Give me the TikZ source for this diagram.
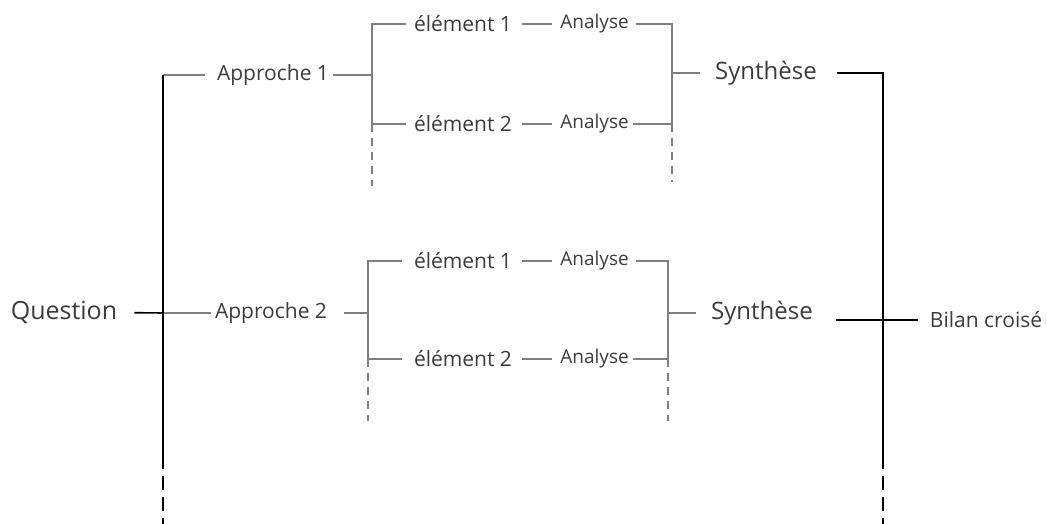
\documentclass[tikz,border=0pt]{standalone}
\usepackage{fontspec}
\setmainfont{Open Sans}
\usetikzlibrary{positioning}
\definecolor{trait}{HTML}{808080}
\definecolor{texte}{HTML}{3C3C3C}

\begin{document}
\begin{tikzpicture}[x=1pt, y=-1pt, node distance=40pt, every node/.style={text=texte, inner sep=4pt},
	gline/.style={draw=trait, line width=2.6pt},
	bline/.style={draw=black, line width=1.6pt},
	gdash/.style={gline, line width=1.6pt, dash pattern=on 8pt off 6pt},
	bdash/.style={bline, dash pattern=on 14pt off 7pt}]
			\useasboundingbox (0,0) rectangle (1047,524);
			
			\node[font=\fontsize{25}{29}\selectfont] (q) at (64,312) {Question};
			\node[font=\fontsize{21}{25}\selectfont] (app1) at (273,75) {Approche 1};
			\node[font=\fontsize{21}{25}\selectfont] (app2) at (271,313) {Approche 2};
			
			\node[font=\fontsize{21}{25}\selectfont] (e11) at (463,24) {élément 1};
			\node[font=\fontsize{21}{25}\selectfont] (e12) at (463,124) {élément 2};
			\node[font=\fontsize{21}{25}\selectfont] (e21) at (463,261) {élément 1};
			\node[font=\fontsize{21}{25}\selectfont] (e22) at (463,359) {élément 2};
			
			\node[font=\fontsize{19}{22}\selectfont, right=of e11] (a11) {Analyse};
			\node[font=\fontsize{19}{22}\selectfont, right=of e12] (a12) {Analyse};
			\node[font=\fontsize{19}{22}\selectfont, right=of e21] (a21) {Analyse};
			\node[font=\fontsize{19}{22}\selectfont, right=of e22] (a22) {Analyse};
			
			\node[font=\fontsize{24}{28}\selectfont] (s1) at (766,73) {Synthèse};
			\node[font=\fontsize{24}{28}\selectfont] (s2) at (762,313) {Synthèse};
			\node[font=\fontsize{21}{25}\selectfont] (bilan) at (986,320) {Bilan croisé};
			
			\coordinate (m) at (163,313);
			\coordinate (j1) at (372,75);
			\coordinate (j2) at (368,313);
			\coordinate (k1) at (672,73);
			\coordinate (k2) at (668,313);
			\coordinate (r) at (883,320);
			
			\draw[bline, shorten <=13pt] (q) -- (m);
			\draw[gline] (m) -- (app2);
			\draw[gline, shorten <=8pt] (app1.west) -- (m |- app1.west) coordinate (mt);
			\draw[bline] (mt) -- (163,455) coordinate (mb);
			\draw[bdash] (mb) -- ++(0,69);
			
			\draw[gline] (app1) -- (j1);
			\draw[gline, shorten <=13pt] (app2) -- (j2);
			\draw[gline, shorten <=4pt, shorten >=4pt] (e11.west) -| (j1) |- (e12.west);
			\draw[gline, shorten <=8pt, shorten >=8pt] (e21.west) -| (j2) |- (e22.west);
			\draw[gdash] (j1 |- e12.west) -- ++(0,62);
			\draw[gdash] (j2 |- e22.west) -- ++(0,62);
			
			\foreach \i in {11,12,21,22}
				\draw[gline, shorten <=6pt, shorten >=4pt] (e\i) -- (a\i);
			
			\draw[gline, shorten <=3pt] (a11.east) -| (k1) |- (a12.east);
			\draw[gline, shorten <=3pt] (a21.east) -| (k2) |- (a22.east);
			\draw[gdash] (k1 |- a12.east) -- ++(0,58);
			\draw[gdash] (k2 |- a22.east) -- ++(0,62);
			\draw[gline, shorten >=11pt] (k1) -- (s1);
			\draw[gline, shorten >=11pt] (k2) -- (s2);
			
			\draw[bline, shorten <=16pt] (s1.east) -| (r);
			\draw[bline] (r) -- (883,455) coordinate (rb);
			\draw[bdash] (rb) -- ++(0,69);
			\draw[bline, shorten <=19pt, shorten >=8pt] (s2.east |- bilan.west) -- (bilan.west);
		\end{tikzpicture}
\end{document}
